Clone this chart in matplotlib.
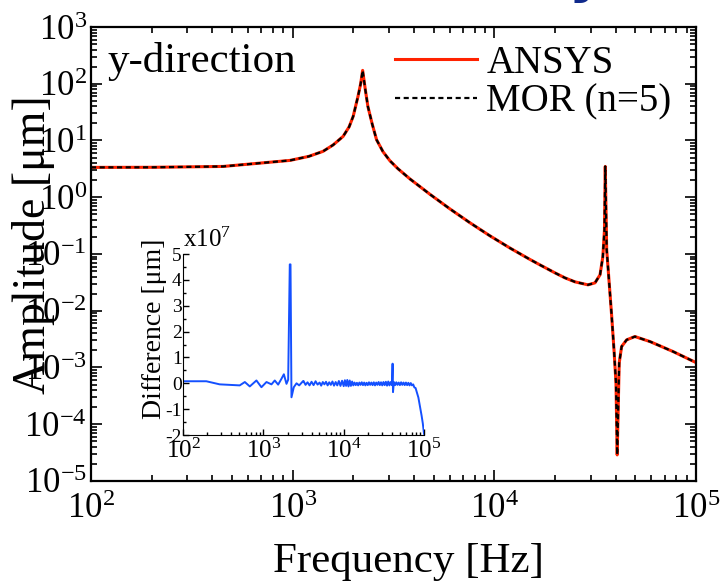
import numpy as np
import matplotlib
matplotlib.use("Agg")
import matplotlib.pyplot as plt
from matplotlib.ticker import LogLocator, MultipleLocator, NullFormatter

plt.rcParams['font.family'] = 'Liberation Serif'
plt.rcParams['mathtext.fontset'] = 'custom'
plt.rcParams['mathtext.rm'] = 'Liberation Serif'
plt.rcParams['mathtext.it'] = 'Liberation Serif:italic'
plt.rcParams['axes.unicode_minus'] = False

# amplitude response, y-direction (Hz, um)
freq = [100, 200, 452, 970, 1202, 1413, 1585, 1778, 1905, 1995, 2109, 2173, 2223,
        2291, 2360, 2483, 2606, 2805, 3034, 3327, 3816, 4797, 6026, 7568, 9509, 11940,
        15000, 16830, 19960, 22380, 25100, 29110, 31550, 33420, 34510, 35160, 35480,
        36060, 38190, 39200, 40100, 40650, 41600, 42760, 45290, 49770, 59160, 76910, 100000]
amp_ansys = [3.36, 3.37, 3.49, 4.46, 5.25, 6.43, 8.32, 11.8, 17.4, 26.6, 60.3, 100, 172,
             79.4, 39.8, 19.1, 10.3, 6.34, 4.40, 3.18, 2.10, 1.125, 0.622, 0.355, 0.209, 0.1276,
             0.0803, 0.0643, 0.0466, 0.0380, 0.0323, 0.0286, 0.031, 0.043, 0.0893, 0.267, 3.49,
             0.119, 0.0079, 0.00204, 5.35e-4, 2.88e-5, 1.2e-3, 2.34e-3, 3.07e-3, 3.51e-3,
             2.86e-3, 1.91e-3, 1.22e-3]
amp_mor = amp_ansys

# difference between ANSYS and MOR (x10^7 um)
freq_diff = [100, 195, 286, 508, 588, 678, 820, 946, 1094, 1262, 1387, 1528, 1683, 1800,
             1941, 2037, 2133, 2178, 2239, 2393, 2588, 2793, 3133,
             3162, 3350, 3548, 3758, 3981, 4217, 4467, 4732, 5012, 5248, 5495, 5754, 6026,
             6310, 6607, 6918, 7244, 7586, 7943, 8318, 8710, 9120, 9550, 10000, 10350, 10720,
             11090, 11480, 11890, 12300, 12740,
             13180, 13650, 14130, 14620, 15140, 15670, 16220, 16790, 17380, 17990, 18620,
             19280, 19950, 20650, 21380, 22130, 22910, 23710, 24550, 25410, 26300, 27230,
             28180, 29170, 30200, 31260, 32360, 33500, 34670, 35890, 37150, 38460, 39810,
             40640, 41110,
             42170, 43650, 45190, 46770, 48420, 50120, 51880, 53700, 55590, 57540, 59570,
             61660, 63830, 66070, 68390, 70790, 73280, 75860, 78520, 81280, 85110, 89130,
             93330, 96610, 100000]
diff = [0.08, 0.08, -0.04, -0.08, 0.05, -0.12, 0.11, -0.15, 0.05, -0.04, 0.11, -0.05, 0.18, 0.35,
        -0.02, 0.14, 4.6, 4.6, -0.54, -0.15, 0.0, -0.08, 0.09,
        0.09, -0.06, 0.04, -0.08, 0.06, -0.07, 0.08, -0.05, 0.03, -0.09, 0.05, -0.04, 0.06,
        -0.08, 0.04, -0.06, 0.07, -0.09, 0.05, -0.08, 0.09, -0.10, 0.10, -0.11, 0.12, -0.10,
        0.13, -0.12, 0.11, -0.10, 0.07,
        -0.08, 0.03, -0.07, 0.02, -0.08, 0.03, -0.06, 0.04, -0.07, 0.03, -0.08,
        0.02, -0.07, 0.04, -0.06, 0.03, -0.07, 0.04, -0.08, 0.03, -0.06, 0.05,
        -0.07, 0.04, -0.08, 0.05, -0.07, 0.06, -0.09, 0.07, -0.08, 0.05, -0.07,
        0.76, -0.34,
        0.05, -0.07, 0.04, -0.06, 0.03, -0.07, 0.04, -0.06, 0.03, -0.07, 0.03,
        -0.07, 0.02, -0.08, 0.01, -0.08, -0.04, -0.16, -0.18, -0.34, -0.55, -0.9,
        -1.25, -1.55, -1.95]

fig = plt.figure(figsize=(7.2, 5.87), dpi=100)
ax = fig.add_axes([0.1264, 0.1806, 0.8403, 0.7734])

ax.plot(freq, amp_ansys, color='#ff2200', lw=2.2, label='ANSYS')
ax.plot(freq, amp_mor, color='black', lw=1.6, dashes=(2.3, 1.6), label='MOR (n=5)')

ax.set_xscale('log')
ax.set_yscale('log')
ax.set_xlim(1e2, 1e5)
ax.set_ylim(1e-5, 1e3)
ax.xaxis.set_major_locator(LogLocator(base=10, numticks=10))
ax.yaxis.set_major_locator(LogLocator(base=10, numticks=20))
ax.xaxis.set_minor_locator(LogLocator(base=10, subs=np.arange(2, 10), numticks=20))
ax.yaxis.set_minor_locator(LogLocator(base=10, subs=np.arange(2, 10), numticks=20))
ax.xaxis.set_minor_formatter(NullFormatter())
ax.yaxis.set_minor_formatter(NullFormatter())
ax.tick_params(which='both', direction='in', top=True, right=True, width=1.2)
ax.tick_params(which='major', length=8, labelsize=25)
ax.tick_params(which='minor', length=4)
ax.tick_params(axis='x', which='major', pad=9)
ax.tick_params(axis='y', which='major', pad=3)
for s in ax.spines.values():
    s.set_linewidth(1.6)

ax.set_xlabel('Frequency [Hz]', fontsize=31)
ax.xaxis.set_label_coords(0.524, -0.135)
ax.set_ylabel('Amplitude [μm]', fontsize=33)
ax.yaxis.set_label_coords(-0.06, 0.52)

ax.text(0.028, 0.901, 'y-direction', transform=ax.transAxes, fontsize=31, va='baseline')
ax.legend(loc='upper left', bbox_to_anchor=(0.5025, 0.961), frameon=False, fontsize=28,
          handlelength=2.1, handletextpad=0.25, labelspacing=0.05, borderpad=0,
          borderaxespad=0)

# inset: difference
ax_in = fig.add_axes([0.2542, 0.2589, 0.3347, 0.3083])
ax_in.patch.set_alpha(0)
ax_in.plot(freq_diff, diff, color='#1450ff', lw=1.4)
ax_in.set_xscale('log')
ax_in.set_xlim(1e2, 1e5)
ax_in.set_ylim(-2, 5)
ax_in.xaxis.set_major_locator(LogLocator(base=10, numticks=10))
ax_in.xaxis.set_minor_locator(LogLocator(base=10, subs=np.arange(2, 10), numticks=20))
ax_in.yaxis.set_major_locator(MultipleLocator(1))
ax_in.yaxis.set_minor_locator(MultipleLocator(0.5))
ax_in.xaxis.set_minor_formatter(NullFormatter())
ax_in.spines['top'].set_visible(False)
ax_in.spines['right'].set_visible(False)
ax_in.tick_params(which='both', direction='in', width=1.0)
ax_in.tick_params(which='major', length=4)
ax_in.tick_params(which='minor', length=2.5)
ax_in.tick_params(axis='x', labelsize=18, pad=3)
ax_in.tick_params(axis='y', labelsize=14, pad=1)
ax_in.set_ylabel('Difference [μm]', fontsize=20)
ax_in.yaxis.set_label_coords(-0.066, 0.588)
ax_in.text(0.0, 1.038, 'x10$^{7}$', transform=ax_in.transAxes, fontsize=18, va='baseline')

fig.text(0.79, 1.016, 'y', color='#102a8c', fontsize=40, fontweight='bold',
         family='DejaVu Sans', ha='left', va='baseline')

fig.savefig('out.png', dpi=100)
